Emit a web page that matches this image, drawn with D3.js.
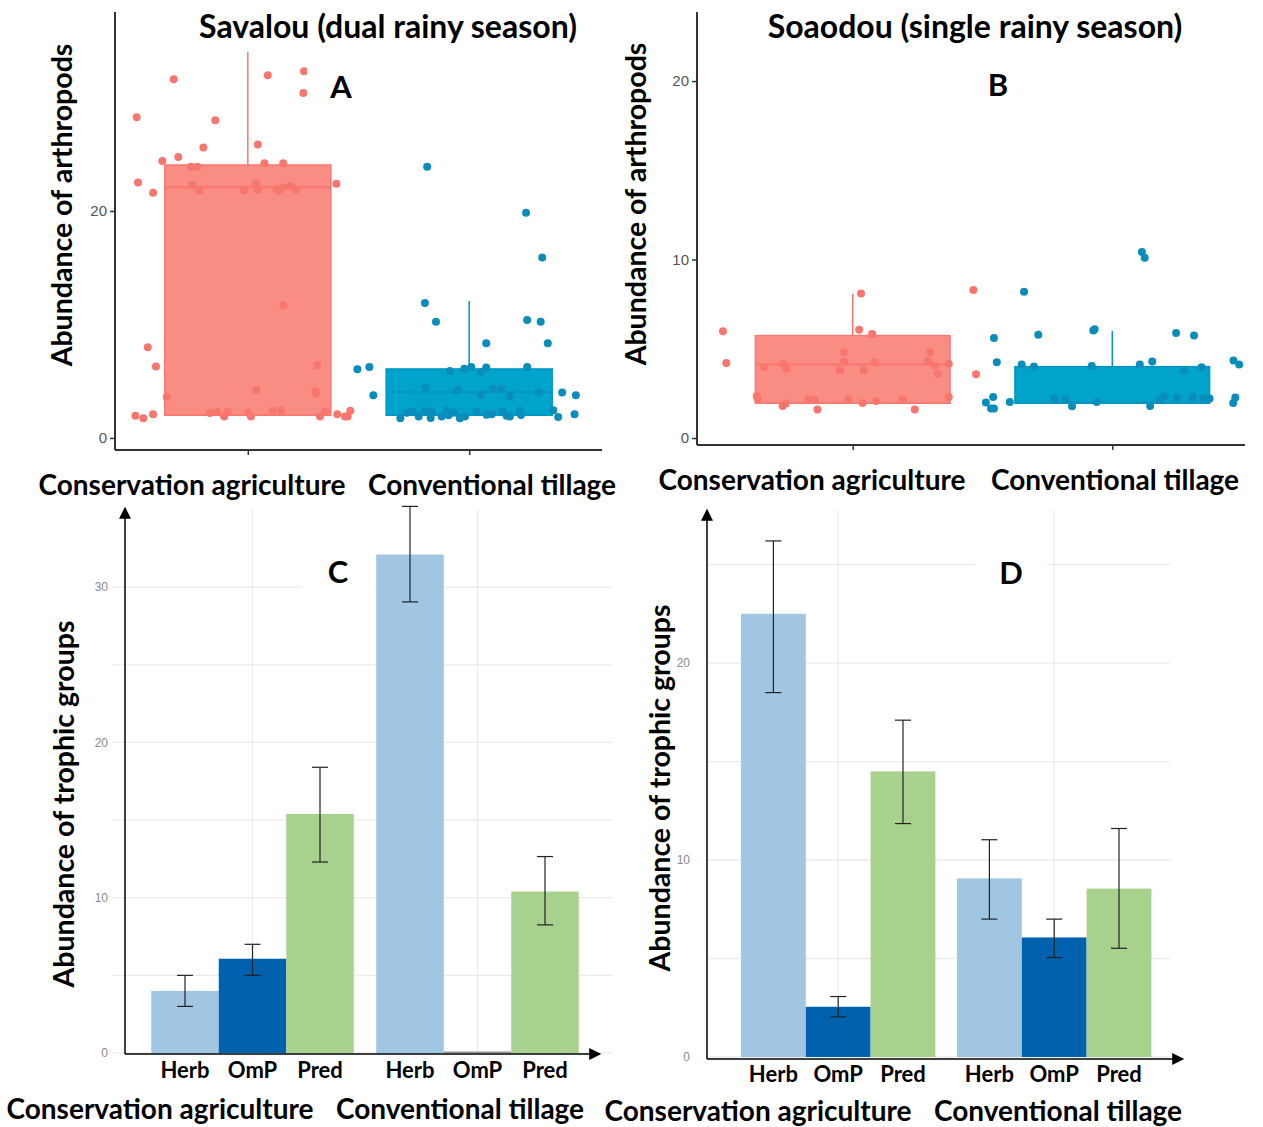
<!DOCTYPE html>
<html>
<head>
<meta charset="utf-8">
<script src="https://cdn.jsdelivr.net/npm/d3@7"></script>
<style>
  body { margin: 0; background: #fff; }
  svg { display: block; }
  .lbl { font-family: Lato, "Open Sans", sans-serif; font-weight: bold; fill: #000; }
  .tick text { font-family: "Liberation Sans", Arial, sans-serif; }
</style>
</head>
<body>
<svg id="fig" width="1263" height="1127"></svg>
<script>
// ---- data ----
var groups = ["Conservation agriculture", "Conventional tillage"];
var trophic = ["Herb", "OmP", "Pred"];

// box stats (lo, q1, median, q3, hi)
var savalouBox = [
  {lo: 2.0, q1: 2.0, med: 22.1, q3: 24.05, hi: 34.0},
  {lo: 2.0, q1: 2.0, med: 4.05, q3: 6.08, hi: 12.07}
];
var soaodouBox = [
  {lo: 1.95, q1: 1.95, med: 4.12, q3: 5.74, hi: 8.08},
  {lo: 1.95, q1: 1.95, med: 2.0, q3: 4.0, hi: 6.0}
];

// jittered points: [offset within category step, value]
var savalouCA = [[-0.335,31.6],[0.09,31.95],[0.254,32.3],[0.251,30.4],[-0.502,28.25],[-0.147,28.0],
  [-0.201,25.6],[0.045,25.85],[-0.386,24.4],[-0.314,24.75],[-0.257,23.9],[-0.228,23.9],[0.075,24.2],
  [0.16,24.2],[-0.496,22.5],[-0.428,21.6],[-0.251,22.3],[-0.22,21.8],[-0.016,21.8],[0.037,22.4],
  [0.045,21.9],[0.131,21.9],[0.16,22.1],[0.14,21.8],[0.194,22.2],[0.218,21.9],[0.40,22.4],[0.16,11.7],
  [-0.452,8.0],[-0.415,6.3],[0.314,6.4],[0.038,4.25],[0.305,4.1],[0.309,3.9],[-0.366,3.6],[-0.508,1.96],
  [-0.472,1.73],[-0.428,2.1],[-0.171,2.2],[-0.14,2.3],[-0.107,1.9],[-0.091,2.3],[0.002,2.25],[0.014,1.9],
  [0.112,2.4],[0.15,2.4],[0.326,1.9],[0.349,2.35],[0.404,2.1],[0.439,1.9],[0.451,1.9],[0.463,2.4]];
var savalouCT = [[-0.19,23.9],[0.257,19.85],[0.33,15.9],[-0.2,11.9],[-0.15,10.25],[0.262,10.4],[0.323,10.25],
  [0.077,8.35],[0.355,8.35],[-0.505,6.05],[-0.451,6.25],[-0.433,3.76],[-0.087,5.9],[-0.022,6.1],[0.009,6.25],
  [0.053,5.8],[0.077,6.2],[0.262,6.25],[-0.195,4.45],[-0.052,4.2],[0.053,3.8],[0.107,4.35],[0.145,4.35],
  [0.183,3.67],[0.314,4.0],[0.42,4.0],[0.482,3.76],[0.38,2.44],[0.402,1.85],[0.476,2.09],[-0.311,1.73],
  [-0.282,2.23],[-0.254,2.32],[-0.228,1.9],[-0.2,2.38],[-0.174,1.76],[-0.167,2.29],[-0.124,1.9],[-0.102,2.44],
  [-0.093,2.0],[-0.069,2.23],[-0.042,1.73],[-0.019,1.9],[0.034,2.32],[0.079,2.05],[0.102,2.09],[0.15,2.32],
  [0.169,1.96],[0.184,1.9],[0.229,2.38],[0.234,2.03]];
var soaodouCA = [[-0.5,5.98],[-0.487,4.2],[0.032,8.1],[0.025,6.07],[0.075,5.83],[0.465,8.3],[0.475,3.57],
  [-0.37,2.34],[-0.366,2.2],[-0.342,3.97],[-0.27,4.16],[-0.255,3.88],[-0.27,1.8],[-0.258,1.93],[-0.171,2.17],
  [-0.147,2.12],[-0.136,1.6],[-0.033,4.81],[-0.033,4.29],[-0.049,3.79],[-0.017,2.17],[0.038,1.97],[0.043,3.79],
  [0.085,4.25],[0.09,2.08],[0.192,2.17],[0.239,1.6],[0.299,4.81],[0.291,4.35],[0.315,4.07],[0.328,3.6],
  [0.37,4.16],[0.37,2.3]];
var soaodouCT = [[-0.34,8.2],[-0.456,5.6],[-0.445,4.25],[-0.459,2.3],[-0.487,1.99],[-0.467,1.65],[-0.456,1.65],
  [-0.395,2.02],[-0.285,5.79],[-0.349,4.12],[-0.302,4.01],[-0.224,2.21],[-0.179,2.16],[-0.155,1.78],
  [-0.073,6.02],[-0.068,6.1],[-0.079,4.03],[-0.06,2.02],[0.114,10.43],[0.125,10.1],[0.106,4.12],[0.154,4.29],
  [0.146,1.8],[0.185,2.12],[0.201,2.34],[0.246,5.89],[0.249,2.27],[0.277,3.75],[0.315,5.74],[0.309,2.3],
  [0.344,3.97],[0.351,2.21],[0.375,2.21],[0.467,4.35],[0.489,4.12],[0.466,1.97],[0.474,2.27]];

// trophic group means and error bar limits [mean, low, high]
var savalouTrophic = [
  [[4.0, 3.0, 5.0], [6.07, 5.0, 7.0], [15.4, 12.3, 18.4]],
  [[32.1, 29.05, 35.2], [0.1, null, null], [10.4, 8.25, 12.65]]
];
var soaodouTrophic = [
  [[22.5, 18.5, 26.2], [2.55, 2.04, 3.07], [14.5, 11.85, 17.1]],
  [[9.07, 7.0, 11.03], [6.07, 5.05, 7.0], [8.55, 5.52, 11.6]]
];

var boxTicksA = [0, 20];
var boxTicksB = [0, 10, 20];
var barTicksC = [0, 10, 20, 30];
var barTicksD = [0, 10, 20];

// ---- drawing ----
var svg = d3.select("#fig");
var red = "#F8766D", blue = "#0A8DBA";
var boxFill = ["#FA8D83", "#00A3CB"], boxLine = ["#F8766D", "#0096C2"];
var barColors = ["#A0C6E2", "#0061AE", "#A9D18E"];

svg.append("defs").append("marker")
  .attr("id", "arrow").attr("viewBox", "0 0 10 10").attr("refX", 9).attr("refY", 5)
  .attr("markerWidth", 13).attr("markerHeight", 12).attr("markerUnits", "userSpaceOnUse")
  .attr("orient", "auto")
  .append("path").attr("d", "M0,0 L10,5 L0,10 z").attr("fill", "#000");

function boxPanel(opt) {
  var x = d3.scalePoint().domain(groups).range(opt.xRange).padding(0.6);
  var step = x.step();
  var y = d3.scaleLinear().domain(opt.yDomain).range(opt.yRange);
  var g = svg.append("g");
  var bw = step * 0.75;

  opt.boxes.forEach(function(b, i) {
    var cx = x(groups[i]);
    g.append("line").attr("x1", cx).attr("x2", cx).attr("y1", y(b.q3)).attr("y2", y(b.hi))
      .attr("stroke", boxLine[i]).attr("stroke-width", 1.5);
    g.append("rect").attr("x", cx - bw / 2).attr("width", bw)
      .attr("y", y(b.q3)).attr("height", y(b.q1) - y(b.q3))
      .attr("fill", boxFill[i]).attr("stroke", boxLine[i]).attr("stroke-width", 1.5);
    g.append("line").attr("x1", cx - bw / 2).attr("x2", cx + bw / 2).attr("y1", y(b.med)).attr("y2", y(b.med))
      .attr("stroke", boxLine[i]).attr("stroke-width", 2);
  });
  opt.points.forEach(function(pts, i) {
    g.selectAll(null).data(pts).enter().append("circle")
      .attr("cx", function(d) { return x(groups[i]) + d[0] * step; })
      .attr("cy", function(d) { return y(d[1]); })
      .attr("r", 4)
      .attr("fill", i == 0 ? red : blue);
  });

  // letter with white backing
  g.append("rect").attr("x", opt.letterX - 34).attr("y", opt.letterY - 28).attr("width", 72).attr("height", 50).attr("fill", "#fff");
  g.append("text").attr("class", "lbl").attr("x", opt.letterX).attr("y", opt.letterY + 11)
    .attr("text-anchor", "middle").attr("font-size", 31).text(opt.letter);

  // axes
  var x0 = opt.xRange[0], yb = opt.yRange[0];
  g.append("line").attr("x1", x0).attr("x2", x0).attr("y1", opt.yRange[1]).attr("y2", yb)
    .attr("stroke", "#333").attr("stroke-width", 2);
  g.append("line").attr("x1", x0).attr("x2", opt.xEnd).attr("y1", yb).attr("y2", yb)
    .attr("stroke", "#333").attr("stroke-width", 2);
  var ya = g.append("g").attr("transform", "translate(" + x0 + ",0)")
    .call(d3.axisLeft(y).tickValues(opt.ticks).tickSize(5).tickPadding(3));
  ya.select(".domain").remove();
  ya.selectAll(".tick line").attr("stroke", "#333").attr("stroke-width", 1.5);
  ya.selectAll(".tick text").attr("font-size", 15).attr("fill", "#555");
  var xa = g.append("g").attr("transform", "translate(0," + yb + ")")
    .call(d3.axisBottom(x).tickSize(5).tickFormat(""));
  xa.select(".domain").remove();
  xa.selectAll(".tick line").attr("stroke", "#333").attr("stroke-width", 1.5);

  // texts
  g.append("text").attr("class", "lbl").attr("x", opt.titleX).attr("y", 38)
    .attr("text-anchor", "middle").attr("font-size", 32).text(opt.title);
  g.append("text").attr("class", "lbl")
    .attr("transform", "translate(" + opt.yLabX + "," + opt.yLabY + ") rotate(-90)")
    .attr("text-anchor", "middle").attr("font-size", 28.5).text("Abundance of arthropods");
  opt.catLabels.forEach(function(c, i) {
    g.append("text").attr("class", "lbl").attr("x", c[0]).attr("y", c[1])
      .attr("text-anchor", "middle").attr("font-size", 28).text(groups[i]);
  });
}

function barPanel(opt) {
  var x = d3.scaleBand().domain(groups).range(opt.xRange).paddingInner(0.1).paddingOuter(0.05);
  var xi = d3.scaleBand().domain(trophic).range([0, x.bandwidth()]);
  var y = d3.scaleLinear().domain(opt.yDomain).range(opt.yRange);
  var g = svg.append("g");
  var x0 = opt.axisX, yb = opt.axisY;

  // grid
  var gridVals = d3.range(0, opt.yDomain[1], 5);
  g.selectAll(null).data(gridVals).enter().append("line")
    .attr("x1", opt.gridX[0]).attr("x2", opt.gridX[1])
    .attr("y1", function(d) { return y(d); }).attr("y2", function(d) { return y(d); })
    .attr("stroke", "#ebebeb").attr("stroke-width", 1.3);
  g.selectAll(null).data(groups).enter().append("line")
    .attr("x1", function(d) { return x(d) + x.bandwidth() / 2; })
    .attr("x2", function(d) { return x(d) + x.bandwidth() / 2; })
    .attr("y1", opt.yRange[1]).attr("y2", y(0))
    .attr("stroke", "#ebebeb").attr("stroke-width", 1.3);

  // letter with white backing
  g.append("rect").attr("x", opt.letterX - 36).attr("y", opt.letterY - 28).attr("width", 72).attr("height", 52).attr("fill", "#fff");
  g.append("text").attr("class", "lbl").attr("x", opt.letterX).attr("y", opt.letterY + 11)
    .attr("text-anchor", "middle").attr("font-size", 31).text(opt.letter);

  opt.data.forEach(function(grp, gi) {
    grp.forEach(function(d, ti) {
      var bx = x(groups[gi]) + xi(trophic[ti]);
      g.append("rect").attr("x", bx).attr("width", xi.bandwidth())
        .attr("y", y(d[0])).attr("height", y(0) - y(d[0]))
        .attr("fill", d[0] < 0.5 ? "#999" : barColors[ti]);
      if (d[1] != null) {
        var cx = bx + xi.bandwidth() / 2;
        g.append("line").attr("x1", cx).attr("x2", cx).attr("y1", y(d[1])).attr("y2", y(d[2]))
          .attr("stroke", "#222").attr("stroke-width", 1.2);
        [d[1], d[2]].forEach(function(v) {
          g.append("line").attr("x1", cx - 8).attr("x2", cx + 8).attr("y1", y(v)).attr("y2", y(v))
            .attr("stroke", "#222").attr("stroke-width", 1.2);
        });
      }
      g.append("text").attr("class", "lbl").attr("x", bx + xi.bandwidth() / 2).attr("y", opt.trophY)
        .attr("text-anchor", "middle").attr("font-size", 22).text(trophic[ti]);
    });
  });

  // axes with arrows
  g.append("line").attr("x1", x0).attr("x2", x0).attr("y1", yb).attr("y2", opt.arrowTop)
    .attr("stroke", "#000").attr("stroke-width", 1.5).attr("marker-end", "url(#arrow)");
  g.append("line").attr("x1", x0).attr("x2", opt.arrowRight).attr("y1", yb).attr("y2", yb)
    .attr("stroke", "#000").attr("stroke-width", 1.5).attr("marker-end", "url(#arrow)");
  var ya = g.append("g").attr("transform", "translate(" + (x0 - 14) + ",0)")
    .call(d3.axisLeft(y).tickValues(opt.ticks).tickSize(0).tickPadding(3));
  ya.select(".domain").remove();
  ya.selectAll(".tick text").attr("font-size", 12).attr("fill", "#8a8a8a");

  g.append("text").attr("class", "lbl")
    .attr("transform", "translate(" + opt.yLabX + "," + opt.yLabY + ") rotate(-90)")
    .attr("text-anchor", "middle").attr("font-size", 28.5).text("Abundance of trophic groups");
  opt.catLabels.forEach(function(c, i) {
    g.append("text").attr("class", "lbl").attr("x", c[0]).attr("y", c[1])
      .attr("text-anchor", "middle").attr("font-size", 28).text(groups[i]);
  });
}

boxPanel({
  xRange: [115, 602], xEnd: 602, yDomain: [-1.06, 37.53], yRange: [450, 12],
  boxes: savalouBox, points: [savalouCA, savalouCT], ticks: boxTicksA,
  letter: "A", letterX: 341, letterY: 87,
  title: "Savalou (dual rainy season)", titleX: 388, yLabX: 72, yLabY: 205,
  catLabels: [[192, 495], [492, 495]]
});
boxPanel({
  xRange: [697, 1268], xEnd: 1245, yDomain: [-0.39, 23.87], yRange: [445, 12],
  boxes: soaodouBox, points: [soaodouCA, soaodouCT], ticks: boxTicksB,
  letter: "B", letterX: 998, letterY: 85,
  title: "Soaodou (single rainy season)", titleX: 975, yLabX: 646, yLabY: 204,
  catLabels: [[812, 490], [1115, 490]]
});
barPanel({
  xRange: [140, 590], yDomain: [0, 35], yRange: [1053, 509.5],
  axisX: 125, axisY: 1054, arrowTop: 508, arrowRight: 600, gridX: [113, 612],
  data: savalouTrophic, ticks: barTicksC,
  letter: "C", letterX: 338, letterY: 572, trophY: 1078,
  yLabX: 74, yLabY: 804,
  catLabels: [[160, 1119], [460, 1119]]
});
barPanel({
  xRange: [730.2, 1162.2], yDomain: [0, 27.77], yRange: [1057, 510],
  axisX: 707, axisY: 1059, arrowTop: 510, arrowRight: 1183, gridX: [707, 1170],
  data: soaodouTrophic, ticks: barTicksD,
  letter: "D", letterX: 1011, letterY: 573, trophY: 1082,
  yLabX: 670, yLabY: 788,
  catLabels: [[758, 1121], [1058, 1121]]
});
</script>
</body>
</html>
